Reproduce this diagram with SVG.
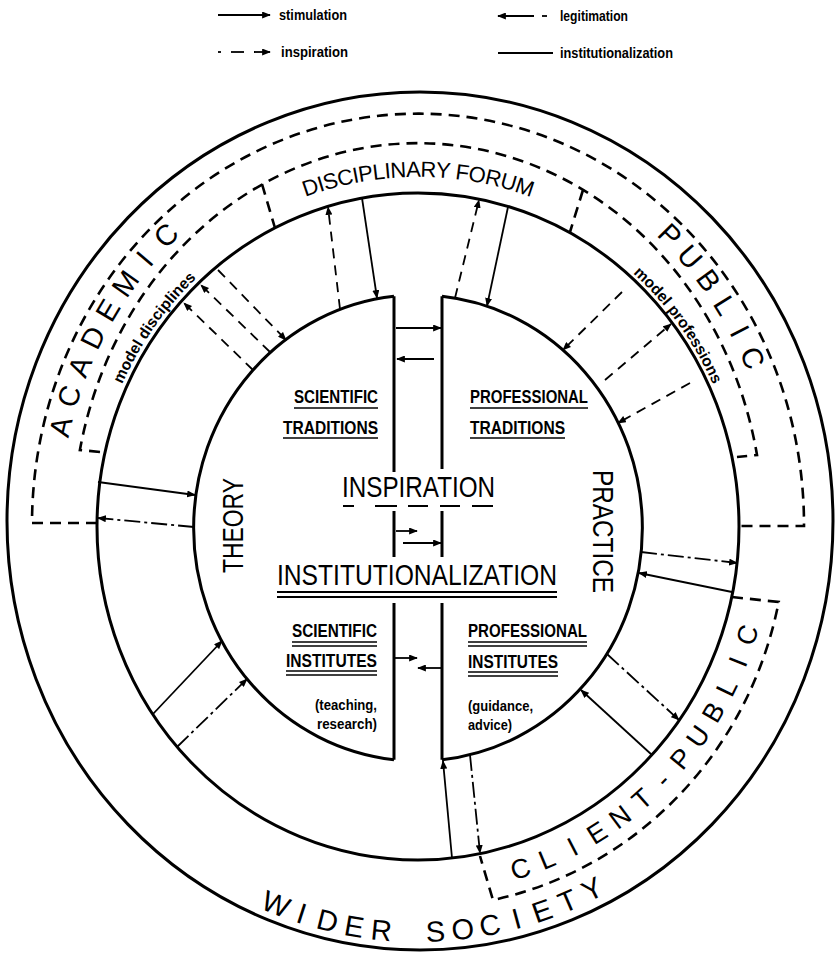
<svg xmlns="http://www.w3.org/2000/svg" width="837" height="953" viewBox="0 0 837 953">
<style>
.ring{fill:none;stroke:#000;stroke-width:3}
.bound{fill:none;stroke:#000;stroke-width:2.6;stroke-dasharray:11 7}
.stim{fill:none;stroke:#000;stroke-width:1.8;marker-end:url(#ah)}
.insp{fill:none;stroke:#000;stroke-width:1.8;stroke-dasharray:10 7;marker-end:url(#ah)}
.legit{fill:none;stroke:#000;stroke-width:1.8;stroke-dasharray:16 4 3 4;marker-end:url(#ah)}
.plain{fill:none;stroke:#000;stroke-width:1.8}
.ul{stroke:#000;stroke-width:1.6}
.ul2{stroke:#000;stroke-width:2}
text{font-family:'Liberation Sans Narrow','Liberation Sans',Arial,sans-serif;fill:#000}
.lbl{font-size:19px;font-weight:bold}
.sm{font-size:15px;font-weight:bold}
.leg{font-size:15px;font-weight:bold}
.big{font-size:30px}
.arcA{font-size:29px;text-anchor:middle}
.arcC{font-size:27px;text-anchor:middle}
.arcW{font-size:29px;text-anchor:middle}
.df{font-size:22px;text-anchor:middle;letter-spacing:-0.5px}
.model{font-size:15.5px;font-weight:bold}
</style>
<defs>
<marker id="ah" viewBox="0 0 10 8" refX="9" refY="4" markerWidth="9" markerHeight="7" markerUnits="userSpaceOnUse" orient="auto"><path d="M0,0 L10,4 L0,8 z"/></marker>
<path id="pA" d="M60.4,491.8 A359,388 0 0 1 238.5,190"/>
<path id="pP" d="M597.5,190 A359,388 0 0 1 771.5,458.6"/>
<path id="pC" d="M448.9,892.6 A355,368 0 0 0 771.6,558.1"/>
<path id="pW" d="M160.9,844.7 A400,416 0 0 0 675.1,844.7"/>
<path id="pD" d="M101.3,406.6 A337,349 0 0 1 734.7,406.6"/>
<path id="pMD" d="M103.1,438.5 A326,338 0 0 1 255,233.3"/>
<path id="pMP" d="M580.5,234.1 A325,337 0 0 1 738.1,467.5"/>
</defs>
<rect width="837" height="953" fill="#fff"/>

<g id="legend">
<line class="stim" x1="218" y1="15" x2="270" y2="15"/>
<text class="leg" x="279" y="20" textLength="68" lengthAdjust="spacingAndGlyphs">stimulation</text>
<line class="plain" x1="218" y1="52" x2="221" y2="52"/>
<line class="plain" x1="231" y1="52" x2="244" y2="52"/>
<line class="stim" x1="254" y1="52" x2="270" y2="52"/>
<text class="leg" x="281" y="57" textLength="67" lengthAdjust="spacingAndGlyphs">inspiration</text>
<line class="stim" x1="534" y1="16" x2="498" y2="16"/>
<line class="plain" x1="542" y1="16" x2="547" y2="16"/>
<text class="leg" x="560" y="21" textLength="68" lengthAdjust="spacingAndGlyphs">legitimation</text>
<line class="plain" x1="498" y1="53" x2="553" y2="53"/>
<text class="leg" x="560" y="58" textLength="113" lengthAdjust="spacingAndGlyphs">institutionalization</text>
</g>

<g id="wider-society">
<ellipse class="ring" cx="420" cy="521" rx="413" ry="429"/>
<text class="arcW"><textPath href="#pW" startOffset="23.4%">W</textPath></text>
<text class="arcW"><textPath href="#pW" startOffset="28.4%">I</textPath></text>
<text class="arcW"><textPath href="#pW" startOffset="33.3%">D</textPath></text>
<text class="arcW"><textPath href="#pW" startOffset="38.3%">E</textPath></text>
<text class="arcW"><textPath href="#pW" startOffset="43.3%">R</textPath></text>
<text class="arcW"><textPath href="#pW" startOffset="53.2%">S</textPath></text>
<text class="arcW"><textPath href="#pW" startOffset="58.2%">O</textPath></text>
<text class="arcW"><textPath href="#pW" startOffset="63.2%">C</textPath></text>
<text class="arcW"><textPath href="#pW" startOffset="68.2%">I</textPath></text>
<text class="arcW"><textPath href="#pW" startOffset="73.1%">E</textPath></text>
<text class="arcW"><textPath href="#pW" startOffset="78.1%">T</textPath></text>
<text class="arcW"><textPath href="#pW" startOffset="83.1%">Y</textPath></text>
</g>

<g id="disciplinary-forum">
<ellipse class="ring" cx="418" cy="526.5" rx="321" ry="333.5"/>
<path class="bound" d="M97,523 L32,523 A386,411 0 0 1 804,526 L739,526"/>
<path class="bound" d="M100,452 L79.9,450 A345,383 0 0 1 757,455 L737,457"/>
<path class="bound" d="M262,184 L275,228"/>
<path class="bound" d="M583,190 L570,232"/>
<text class="df"><textPath href="#pD" startOffset="50%">DISCIPLINARY FORUM</textPath></text>
</g>

<g id="academic">
<text class="arcA"><textPath href="#pA" startOffset="17.5%">A</textPath></text>
<text class="arcA"><textPath href="#pA" startOffset="26%">C</textPath></text>
<text class="arcA"><textPath href="#pA" startOffset="34.5%">A</textPath></text>
<text class="arcA"><textPath href="#pA" startOffset="43%">D</textPath></text>
<text class="arcA"><textPath href="#pA" startOffset="51.4%">E</textPath></text>
<text class="arcA"><textPath href="#pA" startOffset="59.9%">M</textPath></text>
<text class="arcA"><textPath href="#pA" startOffset="68.4%">I</textPath></text>
<text class="arcA"><textPath href="#pA" startOffset="76.9%">C</textPath></text>
<text class="model"><textPath href="#pMD" startOffset="22%">model disciplines</textPath></text>
</g>

<g id="public">
<text class="arcA"><textPath href="#pP" startOffset="25.4%">P</textPath></text>
<text class="arcA"><textPath href="#pP" startOffset="34.2%">U</textPath></text>
<text class="arcA"><textPath href="#pP" startOffset="43%">B</textPath></text>
<text class="arcA"><textPath href="#pP" startOffset="51.8%">L</textPath></text>
<text class="arcA"><textPath href="#pP" startOffset="60.6%">I</textPath></text>
<text class="arcA"><textPath href="#pP" startOffset="69.4%">C</textPath></text>
<text class="model"><textPath href="#pMP" startOffset="22.6%">model professions</textPath></text>
</g>

<g id="client-public">
<path class="bound" d="M732,597 L778.7,602 A368,382 0 0 1 493,900 L480,856"/>
<text class="arcC"><textPath href="#pC" startOffset="15.1%">C</textPath></text>
<text class="arcC"><textPath href="#pC" startOffset="20.8%">L</textPath></text>
<text class="arcC"><textPath href="#pC" startOffset="26.6%">I</textPath></text>
<text class="arcC"><textPath href="#pC" startOffset="32.3%">E</textPath></text>
<text class="arcC"><textPath href="#pC" startOffset="38%">N</textPath></text>
<text class="arcC"><textPath href="#pC" startOffset="43.8%">T</textPath></text>
<text class="arcC"><textPath href="#pC" startOffset="49.5%">-</textPath></text>
<text class="arcC"><textPath href="#pC" startOffset="55.2%">P</textPath></text>
<text class="arcC"><textPath href="#pC" startOffset="60.9%">U</textPath></text>
<text class="arcC"><textPath href="#pC" startOffset="66.7%">B</textPath></text>
<text class="arcC"><textPath href="#pC" startOffset="72.4%">L</textPath></text>
<text class="arcC"><textPath href="#pC" startOffset="78.1%">I</textPath></text>
<text class="arcC"><textPath href="#pC" startOffset="83.9%">C</textPath></text>
</g>

<g id="theory">
<path class="ring" d="M394,296.3 A224,233 0 0 0 394,759.7"/>
<path class="ring" d="M394,296.3 V472 M394,511 V557 M394,603 V759.7"/>
<text class="big" transform="translate(243,573) rotate(-90)" textLength="95" lengthAdjust="spacingAndGlyphs">THEORY</text>
<text class="lbl" x="294" y="403" textLength="84" lengthAdjust="spacingAndGlyphs">SCIENTIFIC</text>
<line class="ul" x1="294" y1="408" x2="378" y2="408"/>
<text class="lbl" x="283" y="434" textLength="95" lengthAdjust="spacingAndGlyphs">TRADITIONS</text>
<line class="ul" x1="283" y1="438" x2="378" y2="438"/>
<text class="lbl" x="292" y="637" textLength="85" lengthAdjust="spacingAndGlyphs">SCIENTIFIC</text>
<line class="ul" x1="292" y1="642" x2="377" y2="642"/>
<line class="ul" x1="292" y1="646" x2="377" y2="646"/>
<text class="lbl" x="286" y="667" textLength="91" lengthAdjust="spacingAndGlyphs">INSTITUTES</text>
<line class="ul" x1="286" y1="671" x2="377" y2="671"/>
<line class="ul" x1="286" y1="675" x2="377" y2="675"/>
<text class="sm" x="315" y="710" textLength="62" lengthAdjust="spacingAndGlyphs">(teaching,</text>
<text class="sm" x="317" y="729" textLength="60" lengthAdjust="spacingAndGlyphs">research)</text>
</g>

<g id="practice">
<path class="ring" d="M442,296.3 A224,233 0 0 1 442,759.7"/>
<path class="ring" d="M442,296.3 V469 M442,511 V557 M442,603 V759.7"/>
<text class="big" transform="translate(593,470) rotate(90)" textLength="123" lengthAdjust="spacingAndGlyphs">PRACTICE</text>
<text class="lbl" x="470" y="403" textLength="118" lengthAdjust="spacingAndGlyphs">PROFESSIONAL</text>
<line class="ul" x1="470" y1="408" x2="588" y2="408"/>
<text class="lbl" x="470" y="434" textLength="95" lengthAdjust="spacingAndGlyphs">TRADITIONS</text>
<line class="ul" x1="470" y1="438" x2="565" y2="438"/>
<text class="lbl" x="468" y="637" textLength="119" lengthAdjust="spacingAndGlyphs">PROFESSIONAL</text>
<line class="ul" x1="468" y1="642" x2="587" y2="642"/>
<line class="ul" x1="468" y1="646" x2="587" y2="646"/>
<text class="lbl" x="468" y="668" textLength="90" lengthAdjust="spacingAndGlyphs">INSTITUTES</text>
<line class="ul" x1="468" y1="672" x2="558" y2="672"/>
<line class="ul" x1="468" y1="676" x2="558" y2="676"/>
<text class="sm" x="468" y="711" textLength="65" lengthAdjust="spacingAndGlyphs">(guidance,</text>
<text class="sm" x="468" y="730" textLength="44" lengthAdjust="spacingAndGlyphs">advice)</text>
</g>

<g id="center-labels">
<text class="big" x="342" y="497" textLength="153" lengthAdjust="spacingAndGlyphs">INSPIRATION</text>
<path class="ul2" d="M343,506 H354 M375,506 H397 M408,506 H428 M440,506 H460 M472,506 H493"/>
<text class="big" x="277" y="585" font-size="29" textLength="280" lengthAdjust="spacingAndGlyphs">INSTITUTIONALIZATION</text>
<line class="ul2" x1="277" y1="592" x2="557" y2="592"/>
<line class="ul2" x1="277" y1="597" x2="557" y2="597"/>
</g>

<g id="connectors">
<line class="stim" x1="362" y1="198" x2="377" y2="298"/>
<line class="stim" x1="508" y1="207" x2="487" y2="306"/>
<line class="stim" x1="98" y1="482" x2="195" y2="495"/>
<line class="stim" x1="732" y1="592" x2="639" y2="573"/>
<line class="stim" x1="153" y1="714" x2="222" y2="641"/>
<line class="stim" x1="652" y1="755" x2="581" y2="690"/>
<line class="stim" x1="452" y1="858" x2="443" y2="761"/>
<line class="stim" x1="396" y1="328" x2="441" y2="328"/>
<line class="stim" x1="434" y1="359" x2="397" y2="359"/>
<line class="stim" x1="396" y1="531" x2="417" y2="531"/>
<line class="stim" x1="403" y1="543" x2="441" y2="543"/>
<line class="stim" x1="395" y1="658" x2="417" y2="658"/>
<line class="stim" x1="441" y1="668" x2="418" y2="668"/>

<line class="insp" x1="340" y1="309" x2="328" y2="207"/>
<line class="insp" x1="218" y1="270" x2="286" y2="340"/>
<line class="insp" x1="270" y1="352" x2="201" y2="285"/>
<line class="insp" x1="253" y1="370" x2="184" y2="303"/>
<line class="insp" x1="455" y1="298" x2="479" y2="200"/>
<line class="insp" x1="622" y1="292" x2="563" y2="350"/>
<line class="insp" x1="605" y1="380" x2="671" y2="324"/>
<line class="insp" x1="690" y1="383" x2="618" y2="423"/>

<line class="legit" x1="194" y1="527" x2="98" y2="518"/>
<line class="legit" x1="641" y1="552" x2="737" y2="563"/>
<line class="legit" x1="177" y1="747" x2="247" y2="679"/>
<line class="legit" x1="607" y1="654" x2="679" y2="720"/>
<line class="legit" x1="470" y1="755" x2="480" y2="853"/>
</g>
</svg>
